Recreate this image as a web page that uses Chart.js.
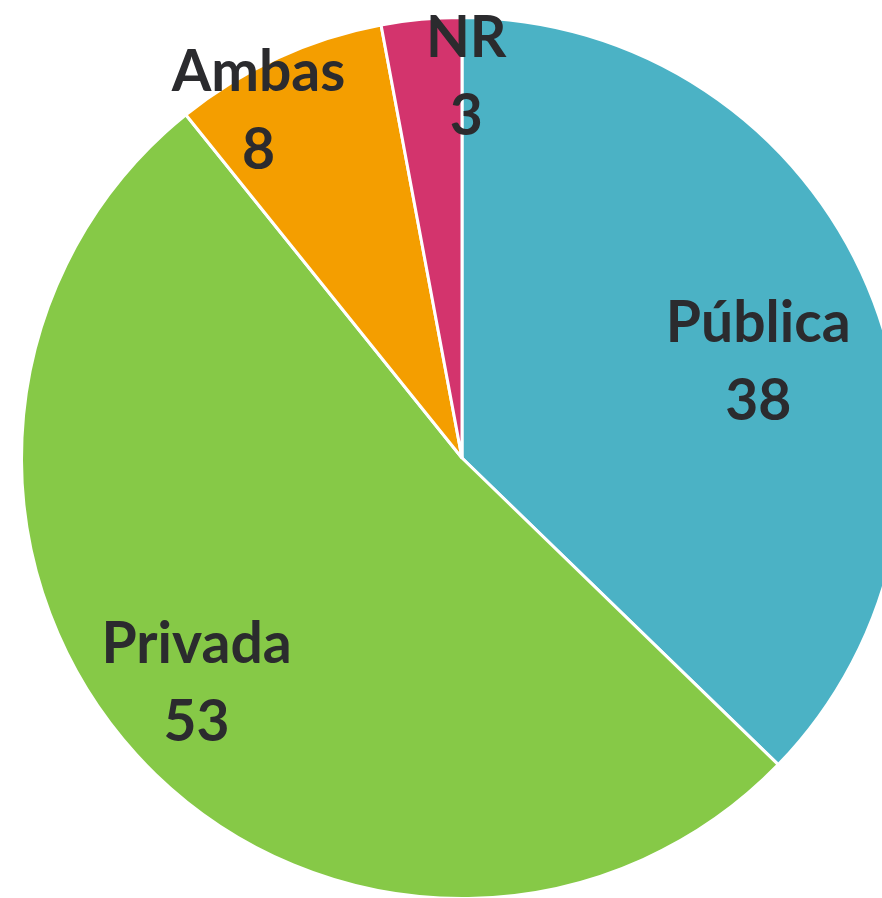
<!DOCTYPE html>
<html>
<head>
<meta charset="utf-8">
<script src="https://cdn.jsdelivr.net/npm/chart.js@4/dist/chart.umd.min.js"></script>
<style>
  html, body { margin: 0; padding: 0; background: #ffffff; overflow: hidden; width: 882px; height: 898px; }
  #wrap { position: absolute; left: 0; top: 0; width: 924px; height: 916px; }
</style>
</head>
<body>
<div id="wrap"><canvas id="c" width="924" height="916"></canvas></div>
<script>
const categories = ['Pública', 'Privada', 'Ambas', 'NR'];
const values = [38, 53, 8, 3];
const colors = ['#4BB2C5', '#86C947', '#F49E00', '#D3346D'];
// label placement: fraction along each slice's angular span, fraction of radius
const labelAngleFrac = [0.537, 0.511, 0.30, 1.06];
const labelRadiusFrac = [0.707, 0.79, 0.914, 0.866];

const labelPlugin = {
  id: 'sliceLabels',
  afterDatasetsDraw(chart) {
    const ctx = chart.ctx;
    const meta = chart.getDatasetMeta(0);
    ctx.save();
    ctx.fillStyle = '#2B2B2E';
    ctx.font = 'bold 57px Lato';
    ctx.textAlign = 'center';
    ctx.textBaseline = 'middle';
    meta.data.forEach((arc, i) => {
      const p = arc.getProps(['x', 'y', 'startAngle', 'endAngle', 'outerRadius'], true);
      const a = p.startAngle + (p.endAngle - p.startAngle) * labelAngleFrac[i];
      const r = p.outerRadius * labelRadiusFrac[i];
      const cx = p.x + Math.cos(a) * r;
      const cy = p.y + Math.sin(a) * r;
      ctx.fillText(categories[i], cx, cy - 38);
      ctx.fillText(String(values[i]), cx, cy + 40);
    });
    ctx.restore();
  }
};

new Chart(document.getElementById('c'), {
  type: 'pie',
  data: {
    labels: categories,
    datasets: [{
      data: values,
      backgroundColor: colors,
      borderColor: '#ffffff',
      borderWidth: 3
    }]
  },
  options: {
    responsive: false,
    animation: false,
    layout: { padding: { left: 20, right: 20, top: 16, bottom: 16 } },
    plugins: { legend: { display: false }, tooltip: { enabled: false } }
  },
  plugins: [labelPlugin]
});
</script>
</body>
</html>
